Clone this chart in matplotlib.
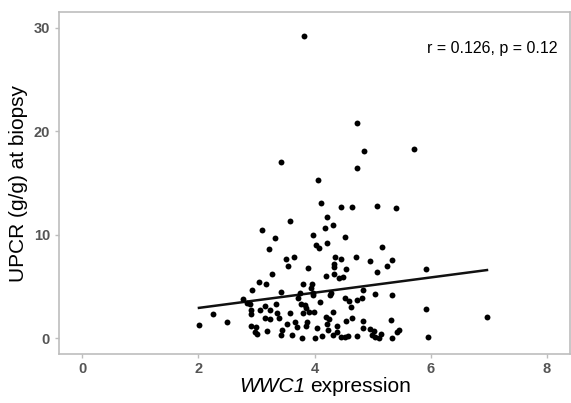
import numpy as np
import matplotlib
matplotlib.use("Agg")
import matplotlib.pyplot as plt

plt.rcParams['font.family'] = ['Liberation Sans', 'DejaVu Sans']

# WWC1 expression vs UPCR at biopsy
wwc1 = [3.82, 4.74, 5.72, 4.86, 3.43, 4.73, 4.06, 4.11, 4.45, 4.64,
        5.07, 5.41, 3.58, 4.21, 4.18, 4.32, 3.10, 3.98, 3.32, 4.52,
        4.22, 4.03, 4.08, 3.22, 5.16, 3.51, 3.64, 4.35, 4.46, 4.72,
        5.34, 4.96, 3.55, 3.89, 4.33, 4.34, 4.55, 5.24, 5.92, 3.26,
        4.34, 4.49, 4.43, 4.19, 5.08, 3.04, 3.17, 3.81, 3.95, 2.92,
        3.43, 3.75, 3.94, 3.97, 3.98, 4.26, 4.28, 4.83, 5.05, 5.34,
        2.77, 2.83, 2.89, 3.14, 3.33, 3.72, 3.76, 3.83, 3.86, 4.10,
        4.53, 4.59, 4.74, 4.81, 4.62, 2.90, 2.90, 3.07, 3.24, 3.36,
        3.58, 3.81, 3.90, 3.99, 4.32, 2.26, 2.01, 2.50, 5.92, 6.97,
        3.15, 3.24, 3.39, 4.20, 4.25, 4.64, 5.32, 4.55, 2.91, 3.00,
        3.66, 3.53, 3.69, 3.87, 3.86, 4.04, 4.22, 4.38, 4.24, 4.83,
        4.84, 4.96, 3.44, 3.18, 2.98, 3.01, 3.42, 3.62, 3.79, 4.00,
        4.13, 4.32, 4.45, 4.52, 4.58, 4.74, 4.99, 5.05, 5.11, 5.14,
        5.34, 5.42, 5.46, 5.96, 5.03, 4.39]
upcr = [29.2, 20.8, 18.25, 18.1, 17.0, 16.4, 15.3, 13.1, 12.65, 12.65,
        12.8, 12.6, 11.3, 11.7, 10.7, 10.9, 10.5, 10.0, 9.7, 9.8,
        9.2, 9.0, 8.7, 8.6, 8.8, 7.7, 7.9, 7.9, 7.7, 7.9,
        7.6, 7.5, 6.95, 6.8, 7.2, 6.9, 6.7, 7.0, 6.7, 6.2,
        6.2, 5.9, 5.8, 6.0, 6.4, 5.4, 5.25, 5.25, 5.3, 4.7,
        4.5, 4.35, 4.9, 4.4, 4.2, 4.2, 4.4, 4.7, 4.3, 4.2,
        3.8, 3.4, 3.3, 3.1, 3.3, 3.9, 3.3, 3.2, 2.9, 3.5,
        3.9, 3.6, 3.7, 3.9, 3.0, 2.7, 2.4, 2.7, 2.7, 2.5,
        2.5, 2.5, 2.6, 2.55, 2.6, 2.4, 1.3, 1.6, 2.8, 2.1,
        2.0, 1.9, 2.0, 2.1, 1.9, 2.0, 1.8, 1.7, 1.2, 1.1,
        1.6, 1.4, 1.15, 1.6, 1.2, 1.0, 1.35, 1.2, 0.85, 1.05,
        1.65, 0.9, 0.85, 0.7, 0.65, 0.45, 0.3, 0.3, 0.06, 0.06,
        0.2, 0.3, 0.1, 0.1, 0.2, 0.25, 0.3, 0.1, 0.03, 0.4,
        0.03, 0.6, 0.8, 0.1, 0.75, 0.6]

# fitted line end points as drawn in the figure
fit_x = [2.01, 6.97]
fit_y = [2.95, 6.6]

x_ticks = [0, 2, 4, 6, 8]
y_ticks = [0, 10, 20, 30]

W, H = 571, 403
fig = plt.figure(figsize=(W / 100, H / 100), dpi=100)
ax = fig.add_axes([0.1033, 0.1216, 0.895, 0.8486])

ax.scatter(wwc1, upcr, s=18, color='black', linewidths=0, zorder=3)
ax.plot(fit_x, fit_y, color='#111111', lw=1.8, zorder=2)

ax.set_xlim(-0.4, 8.4)
ax.set_ylim(-1.5, 31.5)
ax.set_xticks(x_ticks)
ax.set_yticks(y_ticks)

for s in ax.spines.values():
    s.set_color('#BDBDBD')
    s.set_linewidth(1.2)
ax.tick_params(colors='#BDBDBD', length=3, width=1, labelcolor='#555555', labelsize=10.5)
ax.tick_params(axis='x', pad=2.5)
for lab in ax.get_xticklabels() + ax.get_yticklabels():
    lab.set_fontweight('bold')

# x label: italic gene name + plain word
fig.text(305 / W, 1 - 387 / H, 'WWC1', fontsize=15, style='italic',
         ha='right', va='center')
fig.text(310 / W, 1 - 387 / H, 'expression', fontsize=15,
         ha='left', va='center')
ax.set_ylabel('UPCR (g/g) at biopsy', fontsize=15, labelpad=4)

ax.text(0.975, 0.892, 'r = 0.126, p = 0.12', transform=ax.transAxes,
        ha='right', va='center', fontsize=11.5)

fig.savefig('out.png', dpi=100)
